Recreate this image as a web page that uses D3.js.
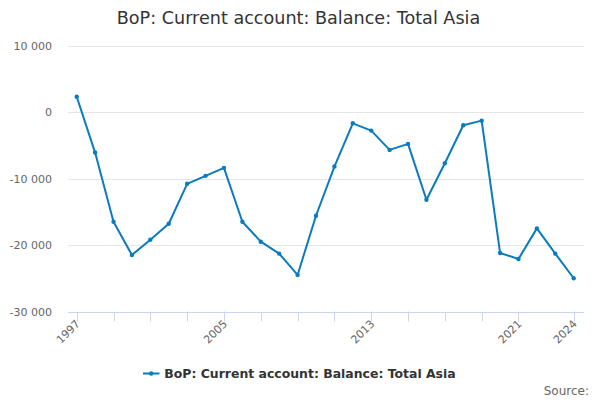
<!DOCTYPE html>
<html><head><meta charset="utf-8">
<script src="https://cdn.jsdelivr.net/npm/d3@7"></script>
<style>body{margin:0;background:#fff}svg{display:block;font-family:"DejaVu Sans",sans-serif}</style>
</head><body><svg id="c" width="600" height="400"></svg>
<script>
const years = [1997,1998,1999,2000,2001,2002,2003,2004,2005,2006,2007,2008,2009,2010,2011,2012,2013,2014,2015,2016,2017,2018,2019,2020,2021,2022,2023,2024];
const values = [2300,-6100,-16500,-21500,-19200,-16800,-10800,-9600,-8400,-16500,-19500,-21300,-24500,-15600,-8200,-1700,-2800,-5700,-4800,-13200,-7700,-2000,-1300,-21200,-22100,-17500,-21300,-25000];
const yTicks = [10000,0,-10000,-20000,-30000];
const xTickYears = [1997,1999,2001,2003,2005,2007,2009,2011,2013,2015,2017,2019,2021,2024];
const xLabelYears = [1997,2005,2013,2021,2024];
const title = "BoP: Current account: Balance: Total Asia";
const seriesName = "BoP: Current account: Balance: Total Asia";
const color = "#0a7bbf";

const svg = d3.select("#c");
const plotL = 68, plotR = 584, plotT = 45.5, plotB = 311.5;
const x = d3.scaleLinear().domain([1997,2024]).range([76.7,573.7]);
const y = d3.scaleLinear().domain([-30000,10000]).range([plotB,plotT]);
const fmt = v => d3.format(",")(v).replace(/,/g," ").replace("−","-");

svg.append("text").attr("x",298.5).attr("y",24).attr("text-anchor","middle")
  .attr("font-size",17.6).attr("fill","#333").text(title);

// grid
svg.append("g").selectAll("line").data(yTicks.filter(d=>d!==-30000)).join("line")
  .attr("x1",plotL).attr("x2",plotR).attr("y1",d=>Math.round(y(d))+0.5).attr("y2",d=>Math.round(y(d))+0.5)
  .attr("stroke","#e6e6e6").attr("stroke-width",1);

// y labels
svg.append("g").selectAll("text").data(yTicks).join("text")
  .attr("x",52).attr("y",d=>y(d)+4).attr("text-anchor","end")
  .attr("font-size",11).attr("fill","#666").text(d=>fmt(d));

// x axis
const xa = svg.append("g");
xa.append("line").attr("x1",plotL).attr("x2",plotR).attr("y1",Math.round(plotB)+0.5).attr("y2",Math.round(plotB)+0.5)
  .attr("stroke","#ccd6eb");
xa.selectAll("line.t").data(xTickYears).join("line").attr("class","t")
  .attr("x1",d=>Math.round(x(d))+0.5).attr("x2",d=>Math.round(x(d))+0.5)
  .attr("y1",plotB).attr("y2",plotB+10).attr("stroke","#ccd6eb");
xa.selectAll("text").data(xLabelYears).join("text")
  .attr("transform",d=>`translate(${x(d)+4},${plotB+13}) rotate(-45)`)
  .attr("text-anchor","end").attr("font-size",11).attr("fill","#666").text(d=>d);

// line
const line = d3.line().x((d,i)=>x(years[i])).y(d=>y(d));
svg.append("path").datum(values).attr("d",line).attr("fill","none")
  .attr("stroke",color).attr("stroke-width",2).attr("stroke-linejoin","round");
svg.append("g").selectAll("circle").data(values).join("circle")
  .attr("cx",(d,i)=>x(years[i])).attr("cy",d=>y(d)).attr("r",2.2).attr("fill",color);

// legend
const lg = svg.append("g");
lg.append("text").attr("x",164.3).attr("y",378).attr("font-size",12.45).attr("font-weight","bold")
  .attr("fill","#333").text(seriesName);
lg.append("line").attr("x1",143).attr("x2",159.5).attr("y1",373.5).attr("y2",373.5).attr("stroke",color).attr("stroke-width",2);
lg.append("circle").attr("cx",151.2).attr("cy",373.5).attr("r",2.2).attr("fill",color);

svg.append("text").attr("x",589).attr("y",395).attr("text-anchor","end")
  .attr("font-size",12).attr("fill","#666").text("Source:");
</script></body></html>
